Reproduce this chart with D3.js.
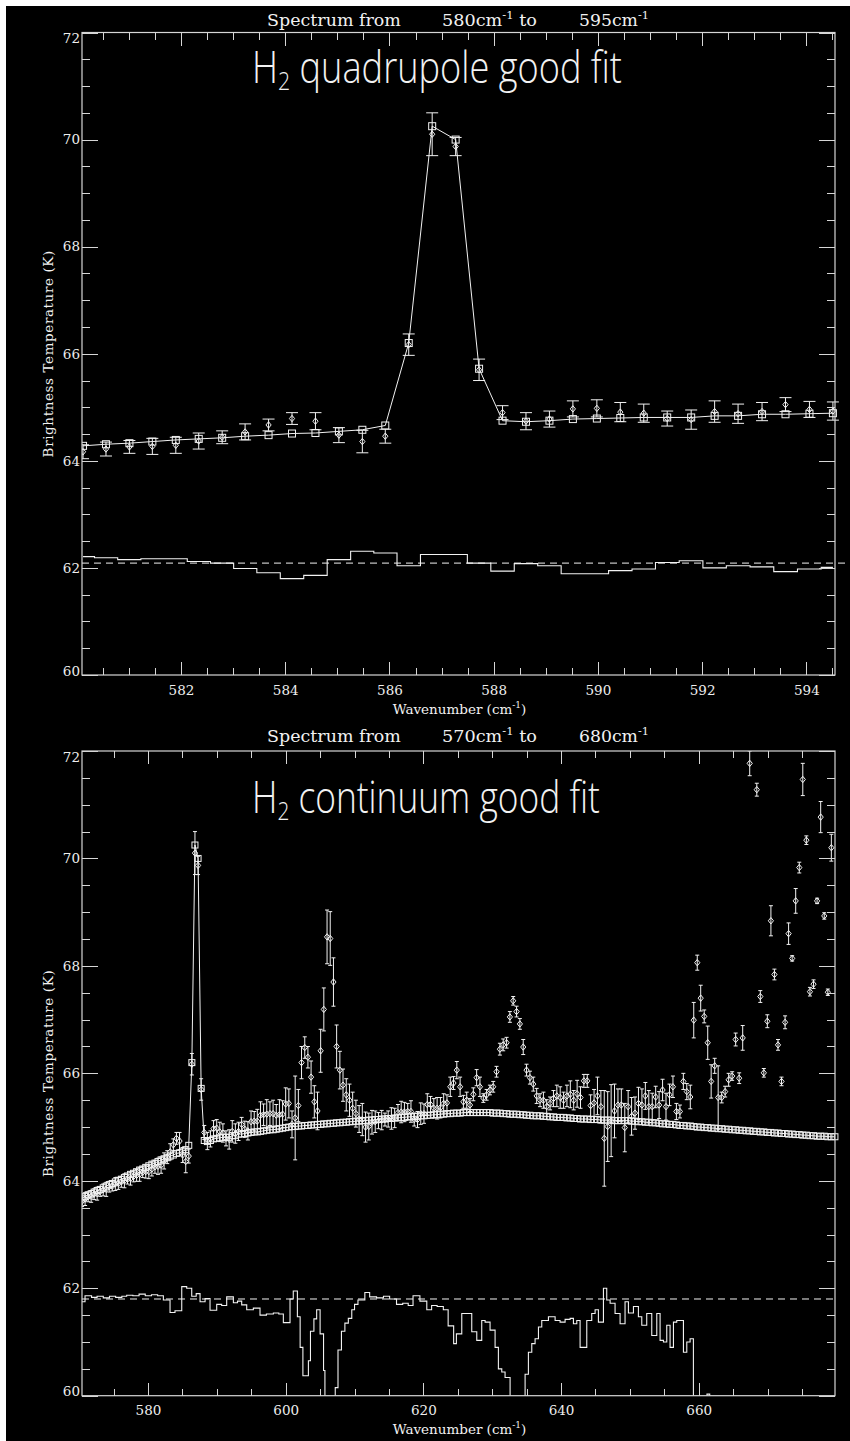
<!DOCTYPE html>
<html>
<head>
<meta charset="utf-8">
<script src="https://cdn.jsdelivr.net/npm/d3@7"></script>
<style>
  html, body { margin: 0; padding: 0; background: #fff; }
  svg { display: block; }
  .tick text { font-family: "DejaVu Serif", serif; font-size: 13.5px; fill: #eee; }
</style>
</head>
<body>
<script>
// wavenumber grid of the 570-680 spectrum (cm-1)
var contWave = [
  570.42, 570.86, 571.30, 571.74, 572.17, 572.61, 573.05, 573.49, 573.93, 574.37,
  574.81, 575.25, 575.69, 576.13, 576.57, 577.02, 577.46, 577.90, 578.34, 578.78,
  579.23, 579.67, 580.12, 580.56, 581.01, 581.45, 581.90, 582.34, 582.79, 583.23,
  583.68, 584.13, 584.58, 585.03, 585.48, 585.92, 586.37, 586.82, 587.27, 587.72,
  588.17, 588.62, 589.07, 589.52, 589.98, 590.43, 590.88, 591.33, 591.79, 592.24,
  592.69, 593.15, 593.60, 594.06, 594.51, 594.97, 595.43, 595.88, 596.34, 596.79,
  597.25, 597.71, 598.17, 598.63, 599.09, 599.55, 600.00, 600.46, 600.92, 601.38,
  601.84, 602.30, 602.77, 603.23, 603.69, 604.16, 604.62, 605.08, 605.54, 606.01,
  606.47, 606.94, 607.40, 607.87, 608.33, 608.80, 609.27, 609.73, 610.20, 610.67,
  611.13, 611.60, 612.07, 612.54, 613.01, 613.48, 613.95, 614.42, 614.89, 615.36,
  615.83, 616.31, 616.78, 617.25, 617.73, 618.20, 618.67, 619.15, 619.62, 620.09,
  620.57, 621.04, 621.52, 622.00, 622.48, 622.95, 623.43, 623.91, 624.38, 624.86,
  625.34, 625.82, 626.30, 626.78, 627.26, 627.74, 628.22, 628.71, 629.19, 629.67,
  630.15, 630.63, 631.12, 631.60, 632.09, 632.57, 633.05, 633.54, 634.02, 634.51,
  634.99, 635.48, 635.97, 636.46, 636.95, 637.44, 637.92, 638.41, 638.90, 639.39,
  639.88, 640.37, 640.86, 641.35, 641.84, 642.34, 642.83, 643.32, 643.81, 644.30,
  644.80, 645.29, 645.79, 646.28, 646.78, 647.28, 647.77, 648.27, 648.76, 649.26,
  649.75, 650.25, 650.75, 651.25, 651.75, 652.25, 652.75, 653.25, 653.75, 654.25,
  654.75, 655.25, 655.76, 656.26, 656.76, 657.27, 657.77, 658.27, 658.78, 659.28,
  659.79, 660.29, 660.80, 661.31, 661.81, 662.32, 662.83, 663.34, 663.84, 664.35,
  664.86, 665.37, 665.88, 666.39, 666.90, 667.41, 667.93, 668.44, 668.95, 669.46,
  669.97, 670.49, 671.00, 671.52, 672.03, 672.55, 673.06, 673.58, 674.09, 674.61,
  675.12, 675.64, 676.16, 676.68, 677.20, 677.72, 678.24, 678.76, 679.27, 679.79
];

// fitted model brightness temperature (K), squares
var contModel = [
  63.68, 63.71, 63.74, 63.76, 63.79, 63.82, 63.84, 63.87, 63.90, 63.93,
  63.95, 63.98, 64.01, 64.03, 64.06, 64.09, 64.12, 64.14, 64.17, 64.20,
  64.22, 64.25, 64.28, 64.31, 64.33, 64.36, 64.39, 64.41, 64.43, 64.46,
  64.48, 64.51, 64.52, 64.55, 64.58, 64.66, 66.20, 70.25, 70.00, 65.72,
  64.75, 64.73, 64.75, 64.78, 64.79, 64.80, 64.81, 64.81, 64.81, 64.84,
  64.84, 64.87, 64.87, 64.88, 64.89, 64.90, 64.91, 64.91, 64.92, 64.93,
  64.94, 64.95, 64.95, 64.96, 64.97, 64.98, 64.99, 65.00, 65.01, 65.01,
  65.02, 65.02, 65.03, 65.03, 65.04, 65.04, 65.05, 65.05, 65.06, 65.06,
  65.07, 65.07, 65.08, 65.08, 65.09, 65.09, 65.10, 65.10, 65.11, 65.11,
  65.12, 65.12, 65.13, 65.13, 65.14, 65.14, 65.15, 65.15, 65.16, 65.16,
  65.17, 65.17, 65.18, 65.18, 65.19, 65.19, 65.20, 65.20, 65.21, 65.21,
  65.22, 65.22, 65.23, 65.23, 65.24, 65.24, 65.25, 65.25, 65.26, 65.26,
  65.26, 65.27, 65.27, 65.27, 65.27, 65.27, 65.27, 65.27, 65.27, 65.27,
  65.26, 65.26, 65.26, 65.25, 65.25, 65.24, 65.24, 65.24, 65.23, 65.23,
  65.22, 65.22, 65.21, 65.21, 65.21, 65.20, 65.20, 65.19, 65.19, 65.18,
  65.18, 65.18, 65.17, 65.17, 65.16, 65.16, 65.15, 65.15, 65.15, 65.14,
  65.14, 65.14, 65.13, 65.13, 65.13, 65.13, 65.12, 65.12, 65.12, 65.12,
  65.12, 65.11, 65.11, 65.10, 65.10, 65.09, 65.09, 65.08, 65.08, 65.07,
  65.06, 65.06, 65.05, 65.05, 65.04, 65.03, 65.03, 65.02, 65.02, 65.01,
  65.00, 65.00, 64.99, 64.99, 64.98, 64.98, 64.97, 64.97, 64.96, 64.96,
  64.95, 64.95, 64.94, 64.94, 64.93, 64.93, 64.92, 64.92, 64.91, 64.91,
  64.90, 64.90, 64.89, 64.89, 64.88, 64.88, 64.87, 64.87, 64.86, 64.86,
  64.85, 64.85, 64.84, 64.84, 64.83, 64.83, 64.83, 64.82, 64.82, 64.82
];

// measured brightness temperature (K), diamonds
var contData = [
  63.62, 63.66, 63.70, 63.71, 63.75, 63.76, 63.80, 63.83, 63.84, 63.89,
  63.90, 63.94, 63.95, 63.98, 64.00, 64.03, 64.04, 64.08, 64.10, 64.12,
  64.16, 64.17, 64.17, 64.22, 64.26, 64.27, 64.29, 64.37, 64.44, 64.54,
  64.67, 64.79, 64.74, 64.48, 64.36, 64.46, 66.17, 70.10, 69.87, 65.70,
  64.90, 64.74, 64.78, 64.97, 64.98, 64.91, 64.89, 64.79, 64.77, 64.92,
  64.88, 64.92, 65.05, 64.96, 64.93, 65.10, 65.11, 65.11, 65.22, 65.23,
  65.24, 65.25, 65.25, 65.22, 65.23, 65.24, 65.43, 65.44, 65.05, 65.17,
  65.40, 66.20, 66.48, 66.30, 65.93, 65.47, 65.30, 66.42, 67.19, 68.54,
  68.51, 67.70, 66.50, 66.06, 65.78, 65.60, 65.50, 65.35, 65.25, 65.15,
  65.14, 65.00, 65.01, 65.09, 65.10, 65.12, 65.13, 65.14, 65.15, 65.16,
  65.17, 65.27, 65.28, 65.28, 65.29, 65.29, 65.14, 65.14, 65.25, 65.25,
  65.42, 65.42, 65.35, 65.35, 65.36, 65.44, 65.45, 65.75, 65.82, 66.06,
  65.75, 65.47, 65.50, 65.41, 65.61, 65.92, 65.75, 65.54, 65.60, 65.69,
  65.75, 66.03, 66.45, 66.53, 66.57, 67.05, 67.35, 67.15, 66.92, 66.49,
  66.06, 65.92, 65.80, 65.58, 65.50, 65.50, 65.38, 65.44, 65.53, 65.58,
  65.55, 65.50, 65.58, 65.61, 65.50, 65.62, 65.55, 65.86, 65.86, 65.40,
  65.45, 65.58, 65.38, 64.79, 65.01, 65.12, 65.30, 65.41, 65.41, 64.99,
  65.38, 65.20, 65.26, 65.44, 65.41, 65.58, 65.38, 65.38, 65.56, 65.41,
  65.69, 65.38, 65.60, 65.75, 65.29, 65.29, 65.85, 65.66, 65.56, 66.99,
  68.06, 67.40, 67.06, 66.57, 65.85, 66.14, 65.55, 65.55, 65.66, 65.88,
  65.95, 66.63, 65.91, 66.66, 72.60, 71.77, 72.90, 71.28, 67.43, 66.01,
  66.97, 68.84, 67.84, 66.53, 65.85, 66.95, 68.60, 68.14, 69.21, 69.83,
  71.47, 70.34, 67.52, 67.66, 69.21, 70.77, 68.93, 67.51, 70.20, 72.50
];

// 1-sigma error of the measurement (K)
var contErr = [
  0.10, 0.12, 0.09, 0.11, 0.10, 0.12, 0.09, 0.11, 0.13, 0.10,
  0.09, 0.12, 0.11, 0.10, 0.13, 0.09, 0.12, 0.10, 0.11, 0.13,
  0.10, 0.12, 0.13, 0.13, 0.12, 0.15, 0.15, 0.15, 0.12, 0.15,
  0.11, 0.11, 0.16, 0.14, 0.21, 0.13, 0.20, 0.40, 0.17, 0.20,
  0.13, 0.16, 0.15, 0.15, 0.16, 0.18, 0.17, 0.14, 0.18, 0.20,
  0.18, 0.17, 0.13, 0.15, 0.17, 0.20, 0.18, 0.22, 0.25, 0.20,
  0.27, 0.22, 0.25, 0.20, 0.28, 0.25, 0.30, 0.27, 0.25, 0.78,
  0.30, 0.30, 0.20, 0.20, 0.30, 0.30, 0.35, 0.40, 0.40, 0.50,
  0.50, 0.45, 0.40, 0.35, 0.30, 0.30, 0.30, 0.30, 0.25, 0.25,
  0.30, 0.28, 0.25, 0.22, 0.20, 0.15, 0.18, 0.12, 0.15, 0.20,
  0.18, 0.15, 0.20, 0.18, 0.15, 0.20, 0.12, 0.15, 0.20, 0.18,
  0.20, 0.15, 0.18, 0.20, 0.19, 0.18, 0.15, 0.18, 0.12, 0.16,
  0.18, 0.12, 0.15, 0.12, 0.12, 0.15, 0.18, 0.08, 0.10, 0.09,
  0.10, 0.10, 0.11, 0.11, 0.10, 0.10, 0.08, 0.10, 0.10, 0.14,
  0.11, 0.12, 0.13, 0.14, 0.12, 0.15, 0.13, 0.12, 0.15, 0.20,
  0.20, 0.15, 0.20, 0.25, 0.18, 0.25, 0.20, 0.12, 0.12, 0.20,
  0.25, 0.35, 0.30, 0.89, 0.65, 0.67, 0.50, 0.30, 0.30, 0.45,
  0.30, 0.35, 0.30, 0.30, 0.30, 0.25, 0.30, 0.25, 0.20, 0.25,
  0.20, 0.25, 0.20, 0.20, 0.15, 0.12, 0.15, 0.15, 0.22, 0.33,
  0.14, 0.24, 0.12, 0.31, 0.31, 0.14, 0.59, 0.10, 0.10, 0.12,
  0.08, 0.12, 0.10, 0.23, 0.30, 0.23, 0.30, 0.12, 0.11, 0.08,
  0.12, 0.28, 0.10, 0.10, 0.08, 0.12, 0.20, 0.05, 0.23, 0.10,
  0.30, 0.08, 0.08, 0.08, 0.05, 0.29, 0.06, 0.06, 0.25, 0.30
];

// the 580-595 window is channels 22..54 of the grid above
var quadFirst = 22;
var quadLast = 54;

// residual histogram of the 580-595 fit, one value per channel (K, offset)
var quadResidual = [
  62.21, 62.19, 62.155, 62.17, 62.17, 62.12, 62.09, 61.99, 61.91, 61.80,
  61.86, 62.155, 62.31, 62.28, 62.04, 62.25, 62.25, 62.09, 61.94, 62.08,
  62.04, 61.89, 61.89, 61.95, 61.98, 62.10, 62.135, 62.00, 62.04, 62.02,
  61.93, 61.98, 62.01
];
var quadResidualBase = 62.09;

// residual histogram of the 570-680 fit: level starts (cm-1) and levels (K)
var contResStart = [
  570.41, 570.85, 571.8, 572.6, 573.5, 574.4, 575.3, 576.2, 576.9, 577.8,
  578.7, 579.6, 580.5, 581.4, 582.23, 583.2, 583.92, 584.9, 585.62, 586.35,
  587.0, 587.56, 588.29, 589.01, 589.98, 590.7, 591.43, 592.4, 593.0, 593.61,
  594.34, 595.3, 596.27, 597.2, 598.21, 599.0, 599.66, 600.63, 601.1, 601.7,
  602.1, 602.5, 603.3, 603.6, 604.1, 604.5, 605.0, 605.5, 605.7, 607.2,
  607.6, 608.1, 608.6, 609.1, 609.6, 610.0, 610.5, 611.5, 612.2, 613.2,
  614.2, 615.1, 616.1, 617.0, 617.8, 618.5, 619.5, 620.5, 621.2, 622.0,
  622.9, 623.6, 624.4, 624.8, 625.58, 627.03, 627.76, 628.48, 628.97, 629.69,
  630.42, 630.9, 631.39, 631.87, 632.6, 634.78, 635.26, 635.75, 636.23, 636.72,
  637.2, 638.17, 639.14, 639.86, 640.59, 641.32, 641.8, 642.29, 642.77, 643.74,
  644.46, 644.95, 645.43, 646.16, 646.64, 647.13, 647.85, 648.58, 649.3, 649.79,
  650.52, 651.24, 651.73, 652.45, 653.18, 653.91, 654.39, 654.88, 655.36, 655.84,
  656.33, 656.81, 657.78, 658.27, 658.75, 659.23, 661.2, 661.6
];
var contResLevel = [
  61.75, 61.86, 61.83, 61.85, 61.82, 61.85, 61.83, 61.85, 61.87, 61.86,
  61.89, 61.86, 61.88, 61.86, 61.78, 61.55, 61.58, 62.03, 62.00, 61.85,
  61.90, 61.75, 61.81, 61.59, 61.70, 61.68, 61.84, 61.73, 61.76, 61.69,
  61.60, 61.63, 61.50, 61.52, 61.54, 61.52, 61.36, 61.80, 61.95, 61.47,
  60.90, 60.37, 60.65, 61.20, 61.43, 61.60, 61.15, 60.47, 59.00, 60.15,
  60.85, 61.20, 61.35, 61.44, 61.60, 61.70, 61.78, 61.92, 61.84, 61.82,
  61.85, 61.80, 61.70, 61.72, 61.68, 61.86, 61.76, 61.60, 61.68, 61.66,
  61.60, 61.30, 60.97, 61.15, 61.53, 61.19, 61.03, 61.40, 61.37, 61.22,
  60.90, 60.50, 60.44, 60.34, 59.00, 60.40, 60.81, 60.97, 61.06, 61.28,
  61.40, 61.47, 61.40, 61.37, 61.42, 61.44, 61.34, 61.40, 60.90, 61.40,
  61.53, 61.60, 61.37, 62.00, 61.78, 61.72, 61.53, 61.34, 61.75, 61.54,
  61.66, 61.47, 61.31, 61.53, 61.12, 61.53, 61.03, 61.00, 61.31, 60.90,
  61.37, 61.40, 60.81, 61.00, 61.06, 59.00, 60.03, 59.00
];
var contResidualBase = 61.8;

var quadRange = [580.1, 594.55];
var contRange = [570.41, 679.8];
var tempRange = [60, 72];
var quadTicksX = [582, 584, 586, 588, 590, 592, 594];
var contTicksX = [580, 600, 620, 640, 660];
var tempTicks = [60, 62, 64, 66, 68, 70, 72];

var plotLeft = 82;
var plotRight = 835;
var ink = '#f2f2f2';
var frameInk = '#d6d6d6';

var svg = d3.select('body').append('svg')
  .attr('width', 850)
  .attr('height', 1441);

svg.append('rect')
  .attr('x', 6).attr('y', 6)
  .attr('width', 844).attr('height', 1435)
  .attr('fill', '#000');

var defs = svg.append('defs');

// puts a text at (x, y) and squeezes it horizontally to a given width
var fittedText = function(x, y, width, build) {
  var g = svg.append('g').attr('transform', 'translate(' + x + ',' + y + ')');
  var t = g.append('text').attr('fill', ink);
  build(t);
  var w = t.node().getComputedTextLength();
  g.attr('transform', 'translate(' + x + ',' + y + ') scale(' + (width / w) + ',1)');
  return t;
};

var serif = function(t, size) {
  return t.attr('font-family', '"DejaVu Serif", serif').attr('font-size', size);
};

var cmPart = function(t, value, tail) {
  t.append('tspan').text(value + 'cm');
  t.append('tspan').attr('font-size', 10.5).attr('dy', -7).text('-1');
  if(tail) { t.append('tspan').attr('dy', 7).text(tail); }
};

var drawTitle = function(baseline, from, to) {
  fittedText(267, baseline, 134, function(t) { serif(t, 16).text('Spectrum from'); });
  fittedText(442, baseline, 95, function(t) { serif(t, 16); cmPart(t, from, ' to'); });
  fittedText(579, baseline, 70, function(t) { serif(t, 16); cmPart(t, to, null); });
};

var drawLabel = function(baseline, rest, width) {
  fittedText(252, baseline, width, function(t) {
    t.attr('font-family', '"Open Sans", Lato, sans-serif')
      .attr('font-weight', 300)
      .attr('font-size', 44);
    t.append('tspan').text('H');
    t.append('tspan').attr('font-size', 26).attr('dy', 7).text('2');
    t.append('tspan').attr('dy', -7).text(' ' + rest);
  });
};

var styleAxis = function(g) {
  g.select('.domain').remove();
  g.attr('color', frameInk).attr('font-family', null).attr('font-size', null);
  g.selectAll('.tick line').attr('shape-rendering', 'crispEdges');
};

var drawPanel = function(cfg) {
  var x = d3.scaleLinear().domain(cfg.xRange).range([plotLeft, plotRight]);
  var y = d3.scaleLinear().domain(tempRange).range([cfg.bottom, cfg.top]);

  defs.append('clipPath').attr('id', cfg.id + '-clip')
    .append('rect')
    .attr('x', plotLeft).attr('y', cfg.top)
    .attr('width', 850 - plotLeft).attr('height', cfg.bottom - cfg.top);

  var plot = svg.append('g').attr('clip-path', 'url(#' + cfg.id + '-clip)');

  // model curve and its squares
  plot.append('path')
    .datum(cfg.points)
    .attr('fill', 'none')
    .attr('stroke', ink)
    .attr('stroke-width', 1)
    .attr('d', d3.line().x(function(d) { return x(d.wave); }).y(function(d) { return y(d.model); }));

  plot.selectAll('rect.model')
    .data(cfg.points)
    .join('rect')
    .attr('class', 'model')
    .attr('x', function(d) { return x(d.wave) - cfg.square / 2; })
    .attr('y', function(d) { return y(d.model) - cfg.square / 2; })
    .attr('width', cfg.square)
    .attr('height', cfg.square)
    .attr('fill', 'none')
    .attr('stroke', ink)
    .attr('stroke-width', 1);

  // error bars
  var bars = plot.selectAll('g.err')
    .data(cfg.points)
    .join('g')
    .attr('class', 'err')
    .attr('stroke', ink)
    .attr('stroke-width', 1)
    .attr('transform', function(d) { return 'translate(' + x(d.wave) + ',0)'; });
  bars.append('line')
    .attr('y1', function(d) { return y(d.data - d.err); })
    .attr('y2', function(d) { return y(d.data + d.err); });
  bars.append('line')
    .attr('x1', -cfg.cap).attr('x2', cfg.cap)
    .attr('y1', function(d) { return y(d.data + d.err); })
    .attr('y2', function(d) { return y(d.data + d.err); });
  bars.append('line')
    .attr('x1', -cfg.cap).attr('x2', cfg.cap)
    .attr('y1', function(d) { return y(d.data - d.err); })
    .attr('y2', function(d) { return y(d.data - d.err); });

  // measured points
  var dw = 2.6, dh = 3.2;
  plot.selectAll('path.obs')
    .data(cfg.points)
    .join('path')
    .attr('class', 'obs')
    .attr('fill', 'none')
    .attr('stroke', ink)
    .attr('stroke-width', 1)
    .attr('d', 'M0,' + (-dh) + 'L' + dw + ',0L0,' + dh + 'L' + (-dw) + ',0Z')
    .attr('transform', function(d) { return 'translate(' + x(d.wave) + ',' + y(d.data) + ')'; });

  // residual histogram and its zero line
  plot.append('path')
    .datum(cfg.residual)
    .attr('fill', 'none')
    .attr('stroke', ink)
    .attr('stroke-width', 1.1)
    .attr('d', d3.line()
      .curve(cfg.residualCurve)
      .x(function(d) { return x(d.wave); })
      .y(function(d) { return y(d.res); }));

  plot.append('line')
    .attr('x1', plotLeft).attr('x2', cfg.dashEnd)
    .attr('y1', y(cfg.base)).attr('y2', y(cfg.base))
    .attr('stroke', ink)
    .attr('stroke-width', 1)
    .attr('stroke-dasharray', '7,5');

  // frame
  svg.append('rect')
    .attr('x', plotLeft).attr('y', cfg.top)
    .attr('width', plotRight - plotLeft).attr('height', cfg.bottom - cfg.top)
    .attr('fill', 'none')
    .attr('stroke', frameInk)
    .attr('stroke-width', 1.2);

  var minorX = d3.range(cfg.xRange[0], cfg.xRange[1], cfg.minorStepX)
    .map(function(v) { return Math.ceil(v / cfg.minorStepX) * cfg.minorStepX; })
    .filter(function(v) { return cfg.ticksX.indexOf(v) < 0 && v <= cfg.xRange[1]; });
  var minorY = d3.range(60.5, 72, 0.5).filter(function(v) { return tempTicks.indexOf(v) < 0; });

  var bottomAxis = svg.append('g').attr('transform', 'translate(0,' + cfg.bottom + ')')
    .call(d3.axisBottom(x).tickValues(cfg.ticksX).tickSize(-13).tickPadding(10).tickFormat(d3.format('d')));
  styleAxis(bottomAxis);
  styleAxis(svg.append('g').attr('transform', 'translate(0,' + cfg.bottom + ')')
    .call(d3.axisBottom(x).tickValues(minorX).tickSize(-7).tickFormat('')));
  styleAxis(svg.append('g').attr('transform', 'translate(0,' + cfg.top + ')')
    .call(d3.axisTop(x).tickValues(cfg.ticksX).tickSize(-13).tickFormat('')));
  styleAxis(svg.append('g').attr('transform', 'translate(0,' + cfg.top + ')')
    .call(d3.axisTop(x).tickValues(minorX).tickSize(-7).tickFormat('')));

  var leftAxis = svg.append('g').attr('transform', 'translate(' + plotLeft + ',0)')
    .call(d3.axisLeft(y).tickValues(tempTicks).tickSize(-16).tickPadding(2).tickFormat(d3.format('d')));
  styleAxis(leftAxis);
  leftAxis.selectAll('.tick text')
    .attr('dy', function(d) { return d === 72 ? '0.75em' : (d === 60 ? '0em' : '0.32em'); });
  styleAxis(svg.append('g').attr('transform', 'translate(' + plotLeft + ',0)')
    .call(d3.axisLeft(y).tickValues(minorY).tickSize(-8).tickFormat('')));
  styleAxis(svg.append('g').attr('transform', 'translate(' + plotRight + ',0)')
    .call(d3.axisRight(y).tickValues(tempTicks).tickSize(-16).tickFormat('')));
  styleAxis(svg.append('g').attr('transform', 'translate(' + plotRight + ',0)')
    .call(d3.axisRight(y).tickValues(minorY).tickSize(-8).tickFormat('')));

  // axis titles
  var xt = serif(svg.append('text'), 13.5)
    .attr('fill', ink)
    .attr('text-anchor', 'middle')
    .attr('x', (plotLeft + plotRight) / 2 + 1)
    .attr('y', cfg.bottom + 38.5);
  xt.append('tspan').text('Wavenumber (cm');
  xt.append('tspan').attr('font-size', 9).attr('dy', -6).text('-1');
  xt.append('tspan').attr('dy', 6).text(')');

  serif(svg.append('text'), 13.5)
    .attr('fill', ink)
    .attr('text-anchor', 'middle')
    .attr('letter-spacing', 0.6)
    .attr('transform', 'translate(52.5,' + ((cfg.top + cfg.bottom) / 2) + ') rotate(-90)')
    .text('Brightness Temperature (K)');
};

var channels = function(first, last) {
  return d3.range(first, last + 1).map(function(i) {
    return {wave: contWave[i], model: contModel[i], data: contData[i], err: contErr[i]};
  });
};

var quadPoints = channels(quadFirst, quadLast);
var quadRes = quadPoints.map(function(d, j) { return {wave: d.wave, res: quadResidual[j]}; });

var contPoints = channels(0, contWave.length - 1);
var contRes = contResStart.map(function(w, j) { return {wave: w, res: contResLevel[j]}; });
contRes.push({wave: contRange[1], res: contResLevel[contResLevel.length - 1]});

drawPanel({
  id: 'quad', top: 32.5, bottom: 675,
  xRange: quadRange, ticksX: quadTicksX, minorStepX: 0.5,
  points: quadPoints, residual: quadRes, residualCurve: d3.curveStep,
  base: quadResidualBase, dashEnd: 850,
  square: 7, cap: 6
});

drawPanel({
  id: 'cont', top: 751, bottom: 1395.7,
  xRange: contRange, ticksX: contTicksX, minorStepX: 5,
  points: contPoints, residual: contRes, residualCurve: d3.curveStepAfter,
  base: contResidualBase, dashEnd: 836,
  square: 6, cap: 2
});

drawTitle(26, 580, 595);
drawTitle(742, 570, 680);
drawLabel(83, 'quadrupole good fit', 370);
drawLabel(813, 'continuum good fit', 348);
</script>
</body>
</html>
